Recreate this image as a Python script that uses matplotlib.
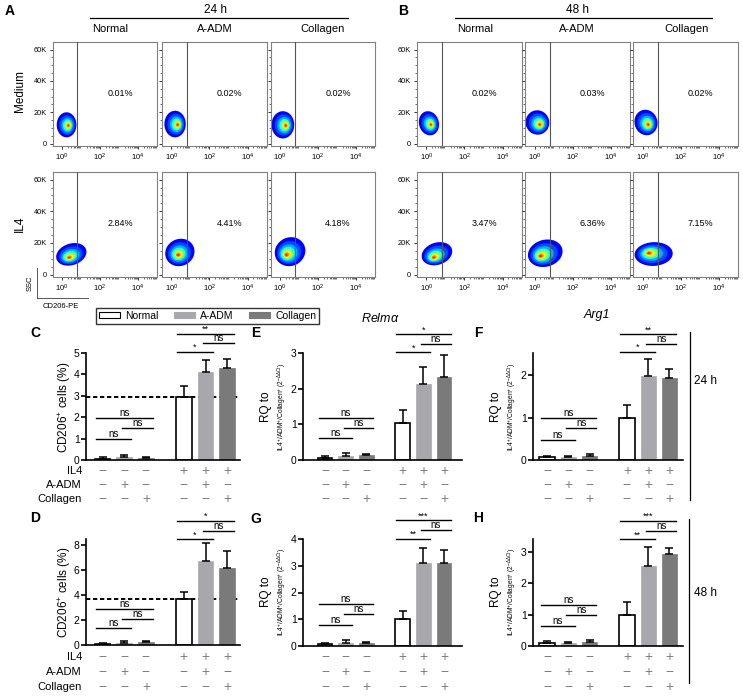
import numpy as np
import matplotlib
matplotlib.use('Agg')
import matplotlib.pyplot as plt
from matplotlib.patches import Ellipse, Patch
from matplotlib.lines import Line2D
from matplotlib.transforms import blended_transform_factory

plt.rcParams['font.family'] = ['Liberation Sans', 'DejaVu Sans']
plt.rcParams['mathtext.fontset'] = 'custom'
plt.rcParams['mathtext.rm'] = 'Liberation Sans'
plt.rcParams['mathtext.it'] = 'Liberation Sans:italic'
plt.rcParams['mathtext.bf'] = 'Liberation Sans:bold'

W, H = 743, 696

# ---- flow cytometry data (A = 24 h, B = 48 h) ----
groups = ['Normal', 'A-ADM', 'Collagen']
pct_24h_medium = ['0.01%', '0.02%', '0.02%']
pct_24h_il4 = ['2.84%', '4.41%', '4.18%']
pct_48h_medium = ['0.02%', '0.03%', '0.02%']
pct_48h_il4 = ['3.47%', '6.36%', '7.15%']

# population blobs: (centre log10 x, centre SSC [K], half-length x, half-length SSC [K],
#                    tilt deg, core log10 x, core SSC [K])
blob_24h_medium = [(0.23, 12.0, 0.52, 8.0, 0, 0.33, 11.5),
                   (0.20, 12.5, 0.56, 8.5, 0, 0.35, 12.0),
                   (0.14, 12.0, 0.60, 8.7, 0, 0.31, 11.5)]
blob_24h_il4 = [(0.48, 12.8, 0.82, 6.8, 18, 0.36, 10.6),
                (0.45, 14.0, 0.78, 8.5, 25, 0.35, 12.3),
                (0.52, 14.5, 0.82, 9.0, 25, 0.31, 12.3)]
blob_48h_medium = [(0.14, 13.0, 0.52, 7.8, 15, 0.26, 12.0),
                   (0.15, 13.5, 0.62, 7.8, 15, 0.29, 12.0),
                   (0.18, 13.5, 0.60, 8.2, 15, 0.31, 12.0)]
blob_48h_il4 = [(0.56, 13.2, 0.82, 7.0, 18, 0.38, 10.6),
                (0.56, 13.5, 0.92, 8.5, 15, 0.29, 11.6),
                (0.58, 13.0, 1.00, 7.5, 3, 0.31, 13.7)]
gate = 0.8

# ---- bar chart data ----
il4_row = ['−', '−', '−', '+', '+', '+']
adm_row = ['−', '+', '−', '−', '+', '−']
col_row = ['−', '−', '+', '−', '−', '+']
pairs = [(0, 1), (1, 2), (0, 2), (3, 4), (4, 5), (3, 5)]

c_mean = [0.07, 0.12, 0.10, 2.96, 4.13, 4.31]
c_err = [0.05, 0.10, 0.05, 0.50, 0.54, 0.41]
c_sig_y = [0.98, 1.50, 1.96, 5.05, 5.45, 5.90]
c_sig = ['ns', 'ns', 'ns', '*', 'ns', '**']

d_mean = [0.10, 0.20, 0.25, 3.68, 6.72, 6.13]
d_err = [0.10, 0.15, 0.10, 0.59, 1.41, 1.39]
d_sig_y = [1.33, 2.08, 2.85, 8.45, 9.15, 9.92]
d_sig = ['ns', 'ns', 'ns', '*', 'ns', '*']

e_mean = [0.07, 0.12, 0.14, 1.04, 2.12, 2.32]
e_err = [0.03, 0.08, 0.04, 0.36, 0.48, 0.62]
e_sig_y = [0.62, 0.89, 1.17, 3.02, 3.24, 3.52]
e_sig = ['ns', 'ns', 'ns', '*', 'ns', '*']

f_mean = [0.08, 0.07, 0.10, 1.00, 1.97, 1.92]
f_err = [0.02, 0.02, 0.05, 0.29, 0.42, 0.22]
f_sig_y = [0.48, 0.75, 0.98, 2.55, 2.73, 2.96]
f_sig = ['ns', 'ns', 'ns', '*', 'ns', '**']

g_mean = [0.08, 0.12, 0.13, 1.00, 3.09, 3.11]
g_err = [0.02, 0.10, 0.03, 0.31, 0.56, 0.47]
g_sig_y = [0.77, 1.18, 1.56, 4.01, 4.32, 4.70]
g_sig = ['ns', 'ns', 'ns', '**', 'ns', '***']

h_mean = [0.10, 0.10, 0.13, 0.99, 2.57, 2.93]
h_err = [0.07, 0.04, 0.05, 0.43, 0.58, 0.21]
h_sig_y = [0.65, 0.99, 1.31, 3.41, 3.68, 3.99]
h_sig = ['ns', 'ns', 'ns', '**', 'ns', '***']

positions = [0, 1, 2, 3.75, 4.75, 5.75]
bar_colors = ['white', '#a8a8ac', '#7a7a7a']
bar_edges = ['black', '#a8a8ac', '#7a7a7a']

fig = plt.figure(figsize=(W / 100, H / 100), dpi=100)


def axes_px(l, t, r, b):
    return fig.add_axes([l / W, 1 - b / H, (r - l) / W, (b - t) / H])


def ftext(x, y, s, **kw):
    fig.text(x / W, 1 - y / H, s, **kw)


def fline(x0, y0, x1, y1, **kw):
    fig.add_artist(Line2D([x0 / W, x1 / W], [1 - y0 / H, 1 - y1 / H],
                          transform=fig.transFigure, **kw))


# ---------------- flow panels ----------------
XL, YL = (-0.5, 5.0), (-1.5, 65.0)
jet = plt.get_cmap('jet')
levels = [(1.0, 0.12), (0.78, 0.2), (0.6, 0.3), (0.46, 0.4), (0.35, 0.52),
          (0.25, 0.64), (0.16, 0.76), (0.08, 0.88)]


def to_frac(u, k):
    return (u - XL[0]) / (XL[1] - XL[0]), (k - YL[0]) / (YL[1] - YL[0])


def flow_panel(l, t, r, b, blob, pct, show_y):
    ax = axes_px(l, t, r, b)
    ax.set_xlim(*XL)
    ax.set_ylim(*YL)
    cx, cy, rx, ry, ang, kx, ky = blob
    for s, c in levels:
        px = kx + s * (cx - kx)
        py = ky + s * (cy - ky)
        fx, fy = to_frac(px, py)
        w = 2 * s * rx / (XL[1] - XL[0])
        h = 2 * s * ry / (YL[1] - YL[0])
        ax.add_patch(Ellipse((fx, fy), w, h, angle=ang, transform=ax.transAxes,
                             facecolor=jet(c), edgecolor='none', zorder=2))
    ax.axvline(gate, color='#555555', lw=0.8, zorder=3)
    ax.text(3.05, 32, pct, ha='center', va='center', fontsize=6.5)
    for sp in ax.spines.values():
        sp.set_color('#808080')
        sp.set_linewidth(0.8)
    ax.set_xticks([0, 2, 4])
    ax.set_xticklabels([r'$10^0$', r'$10^2$', r'$10^4$'], fontsize=5.5)
    minors = [d + np.log10(k) for d in range(5) for k in range(2, 10)
              if d + np.log10(k) < XL[1]]
    ax.set_xticks(minors, minor=True)
    ax.set_yticks([0, 20, 40, 60])
    ax.set_yticks([5, 10, 15, 25, 30, 35, 45, 50, 55], minor=True)
    if show_y:
        ax.set_yticklabels(['0', '20K', '40K', '60K'], fontsize=5.3)
    else:
        ax.set_yticklabels([])
    ax.tick_params(which='major', length=2.5, width=0.7, pad=1.5, color='#333333')
    ax.tick_params(which='minor', length=1.2, width=0.5, color='#333333')
    return ax


cols_a = [(52.7, 157), (161.7, 266.7), (270.7, 375)]
cols_b = [(416.7, 521.7), (525, 630), (633, 738)]
rows = [(41.7, 146), (171.7, 277)]

for i in range(3):
    flow_panel(cols_a[i][0], rows[0][0], cols_a[i][1], rows[0][1],
               blob_24h_medium[i], pct_24h_medium[i], i == 0)
    flow_panel(cols_a[i][0], rows[1][0], cols_a[i][1], rows[1][1],
               blob_24h_il4[i], pct_24h_il4[i], i == 0)
    flow_panel(cols_b[i][0], rows[0][0], cols_b[i][1], rows[0][1],
               blob_48h_medium[i], pct_48h_medium[i], i == 0)
    flow_panel(cols_b[i][0], rows[1][0], cols_b[i][1], rows[1][1],
               blob_48h_il4[i], pct_48h_il4[i], i == 0)

# headers
ftext(10, 11, 'A', fontsize=10, fontweight='bold', ha='center', va='center')
ftext(403, 11, 'B', fontsize=10, fontweight='bold', ha='center', va='center')
ftext(215, 10, '24 h', fontsize=8.5, ha='center', va='center')
ftext(577, 10, '48 h', fontsize=8.5, ha='center', va='center')
fline(90, 18, 348, 18, color='black', lw=0.9)
fline(455, 18, 712, 18, color='black', lw=0.9)
for name, xa, xb in zip(groups, [110, 215, 323], [475, 577, 687]):
    ftext(xa, 29, name, fontsize=8, ha='center', va='center')
    ftext(xb, 29, name, fontsize=8, ha='center', va='center')
ftext(20, 91, 'Medium', fontsize=8.5, rotation=90, ha='center', va='center')
ftext(20, 224, 'IL4', fontsize=8.5, rotation=90, ha='center', va='center')

# axis key
fline(37, 268, 37, 298, color='#555555', lw=0.7)
fline(37, 298, 88, 298, color='#555555', lw=0.7)
ftext(30, 283, 'SSC', fontsize=5.5, rotation=90, ha='center', va='center')
ftext(61, 307, 'CD206-PE', fontsize=5.5, ha='center', va='center')

# legend
handles = [Patch(facecolor=fc, edgecolor=ec, lw=0.8)
           for fc, ec in zip(bar_colors, ['black', '#a8a8ac', '#7a7a7a'])]
leg = fig.legend(handles, groups, loc='center', bbox_to_anchor=(207.5 / W, 1 - 316 / H),
                 ncol=3, frameon=True, fancybox=False, edgecolor='black', fontsize=7.5,
                 handlelength=2.0, handleheight=0.45, columnspacing=1.5,
                 borderpad=0.25, handletextpad=0.5)
leg.get_frame().set_linewidth(1.0)

ftext(380, 318, r'$\it{Relm\alpha}$', fontsize=9, ha='center', va='center')
ftext(597, 315, 'Arg1', fontsize=9, style='italic', ha='center', va='center')


# ---------------- bar panels ----------------
def bar_panel(l, t, r, b, c1, unit, means, errs, ylim, yticks, sig_y, sig,
              dashed=False, rows_y=None, row_labels=False):
    ax = axes_px(l, t, r, b)
    ax.set_xlim((l - c1) / unit, (r - c1) / unit)
    ax.set_ylim(*ylim)
    for k, x in enumerate(positions):
        g = k % 3
        ax.bar(x, means[k], width=0.72, color=bar_colors[g], edgecolor=bar_edges[g],
               linewidth=1.2 if g == 0 else 0.5, zorder=2)
    ax.errorbar(positions, means, yerr=[np.zeros(len(means)), errs], fmt='none',
                ecolor='black', elinewidth=1.1, capsize=3, capthick=1.1, zorder=3)
    if dashed:
        ax.axhline(means[3], color='black', ls=(0, (2.2, 1.4)), lw=1.4, zorder=1)
    for (i, j), y, lab in zip(pairs, sig_y, sig):
        x0 = positions[i] - (0.1 if (i, j) in [(1, 2), (4, 5)] else 0.3)
        x1 = positions[j] + 0.32
        ax.plot([x0, x1], [y, y], color='black', lw=1.0, clip_on=False, zorder=4)
        ax.text((x0 + x1) / 2, y, lab, ha='center', va='bottom',
                fontsize=7 if lab == 'ns' else 6.5, clip_on=False)
    for side in ['top', 'right']:
        ax.spines[side].set_visible(False)
    for side in ['left', 'bottom']:
        ax.spines[side].set_linewidth(1.2)
    ax.set_yticks(yticks)
    ax.set_yticklabels([str(v) for v in yticks], fontsize=7.5)
    ax.set_xticks([])
    ax.tick_params(axis='y', length=3.5, width=1.2, pad=1.0)
    tr = blended_transform_factory(ax.transData, fig.transFigure)
    for row, ry in zip([il4_row, adm_row, col_row], rows_y):
        for x, s in zip(positions, row):
            ax.text(x, 1 - ry / H, s, transform=tr, ha='center', va='center',
                    fontsize=10, color='#808080')
    if row_labels:
        for lab, ry in zip(['IL4', 'A-ADM', 'Collagen'], rows_y):
            ftext(82, ry, lab, fontsize=8, ha='right', va='center')
    return ax


rows_top = [471, 485, 499]
rows_bot = [657, 672, 687]

bar_panel(86, 353, 240, 460, 102.5, 21.7, c_mean, c_err, (0, 5), [0, 1, 2, 3, 4, 5],
          c_sig_y, c_sig, dashed=True, rows_y=rows_top, row_labels=True)
bar_panel(86, 538.75, 240, 645, 102.5, 21.7, d_mean, d_err, (0, 8.5), [0, 2, 4, 6, 8],
          d_sig_y, d_sig, dashed=True, rows_y=rows_bot, row_labels=True)
bar_panel(303, 353, 462, 460, 325, 20.7, e_mean, e_err, (0, 3), [0, 1, 2, 3],
          e_sig_y, e_sig, rows_y=rows_top)
bar_panel(303, 539, 462, 646, 325, 20.7, g_mean, g_err, (0, 4), [0, 1, 2, 3, 4],
          g_sig_y, g_sig, rows_y=rows_bot)
bar_panel(533, 353, 683, 460, 547, 21.3, f_mean, f_err, (0, 2.52), [0, 1, 2],
          f_sig_y, f_sig, rows_y=rows_top)
bar_panel(533, 539, 683, 646, 547, 21.3, h_mean, h_err, (0, 3.42), [0, 1, 2, 3],
          h_sig_y, h_sig, rows_y=rows_bot)

# y labels
cd_lab = r'CD206$^{+}$ cells (%)'
ftext(65, 407, cd_lab, fontsize=8.5, rotation=90, ha='center', va='center')
ftext(65, 592, cd_lab, fontsize=8.5, rotation=90, ha='center', va='center')
rq_small = r'IL4$^{+}$/ADM$^{+}$/Collagen$^{+}$ (2$^{-\Delta\Delta Ct}$)'
for axis_x, yc in [(303, 407), (303, 592), (533, 407), (533, 592)]:
    ftext(axis_x - 37, yc, 'RQ to', fontsize=8.5, rotation=90, ha='center', va='center')
    ftext(axis_x - 21, yc, rq_small, fontsize=4.8, rotation=90, ha='center', va='center')

# panel letters
for lab, x, y in [('C', 35, 333), ('D', 35, 518), ('E', 256, 333),
                  ('F', 478, 333), ('G', 256, 519), ('H', 478, 518)]:
    ftext(x, y, lab, fontsize=10, fontweight='bold', ha='center', va='center')

# time brackets
fline(690, 332, 690, 500, color='black', lw=0.9)
ftext(694, 381, '24 h', fontsize=8.5, ha='left', va='center')
fline(689, 519, 689, 683, color='black', lw=0.9)
ftext(694, 593, '48 h', fontsize=8.5, ha='left', va='center')

fig.savefig('out.png', dpi=100)
